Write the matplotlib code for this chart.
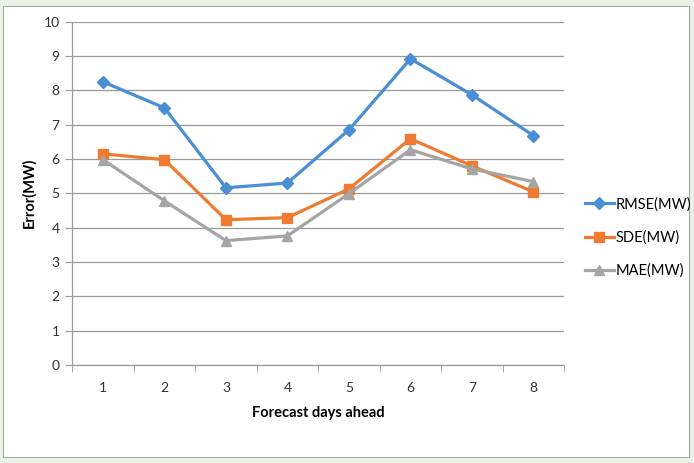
import matplotlib.pyplot as plt
from matplotlib.patches import Rectangle

plt.rcParams['font.family'] = ['Lato', 'DejaVu Sans']

days = [1, 2, 3, 4, 5, 6, 7, 8]
rmse = [8.25, 7.49, 5.16, 5.30, 6.85, 8.92, 7.87, 6.68]
sde = [6.15, 5.98, 4.23, 4.29, 5.13, 6.59, 5.80, 5.04]
mae = [5.98, 4.78, 3.62, 3.76, 4.99, 6.27, 5.71, 5.34]

fig = plt.figure(figsize=(6.94, 4.63), dpi=100, facecolor='#e9f3e6')
# white chart area with a thin frame, kept behind the axes
fig.patches.append(Rectangle((0.005, 0.012), 0.988, 0.976, transform=fig.transFigure,
                             facecolor='white', edgecolor='#a8a8a8', lw=0.8, zorder=-10))

ax = fig.add_axes([0.104, 0.212, 0.709, 0.741])
ax.set_facecolor('none')

ax.plot(days, rmse, color='#4a8fd6', lw=2.3, marker='D', ms=6, label='RMSE(MW)')
ax.plot(days, sde, color='#ee7b2f', lw=2.3, marker='s', ms=7.5, label='SDE(MW)')
ax.plot(days, mae, color='#a5a5a5', lw=2.3, marker='^', ms=7.5, label='MAE(MW)')

ax.set_xlim(0.5, 8.5)
ax.set_ylim(0, 10)
ax.set_yticks(range(0, 11))
ax.set_xticks(days)
ax.set_xticks([d + 0.5 for d in range(0, 9)], minor=True)
ax.grid(axis='y', color='#9a9a9a', lw=0.9)
ax.set_axisbelow(True)

for side in ('top', 'right'):
    ax.spines[side].set_visible(False)
for side in ('left', 'bottom'):
    ax.spines[side].set_color('#9a9a9a')
    ax.spines[side].set_linewidth(0.9)

ax.tick_params(axis='x', which='major', length=0, labelsize=10, pad=12, colors='#333333')
ax.tick_params(axis='x', which='minor', length=5, color='#9a9a9a')
ax.tick_params(axis='y', length=5, color='#9a9a9a', labelsize=10, pad=4, labelcolor='#333333')

ax.set_xlabel('Forecast days ahead', fontsize=10.5, fontweight='bold', labelpad=9)
ax.set_ylabel('Error(MW)', fontsize=10.5, fontweight='bold', labelpad=5)

ax.legend(loc='center left', bbox_to_anchor=(0.832, 0.487), bbox_transform=fig.transFigure,
          frameon=False, fontsize=10.5, handlelength=2.0, handletextpad=0.1,
          labelspacing=1.3, borderpad=0)

fig.savefig('out.png', dpi=100, facecolor=fig.get_facecolor())
